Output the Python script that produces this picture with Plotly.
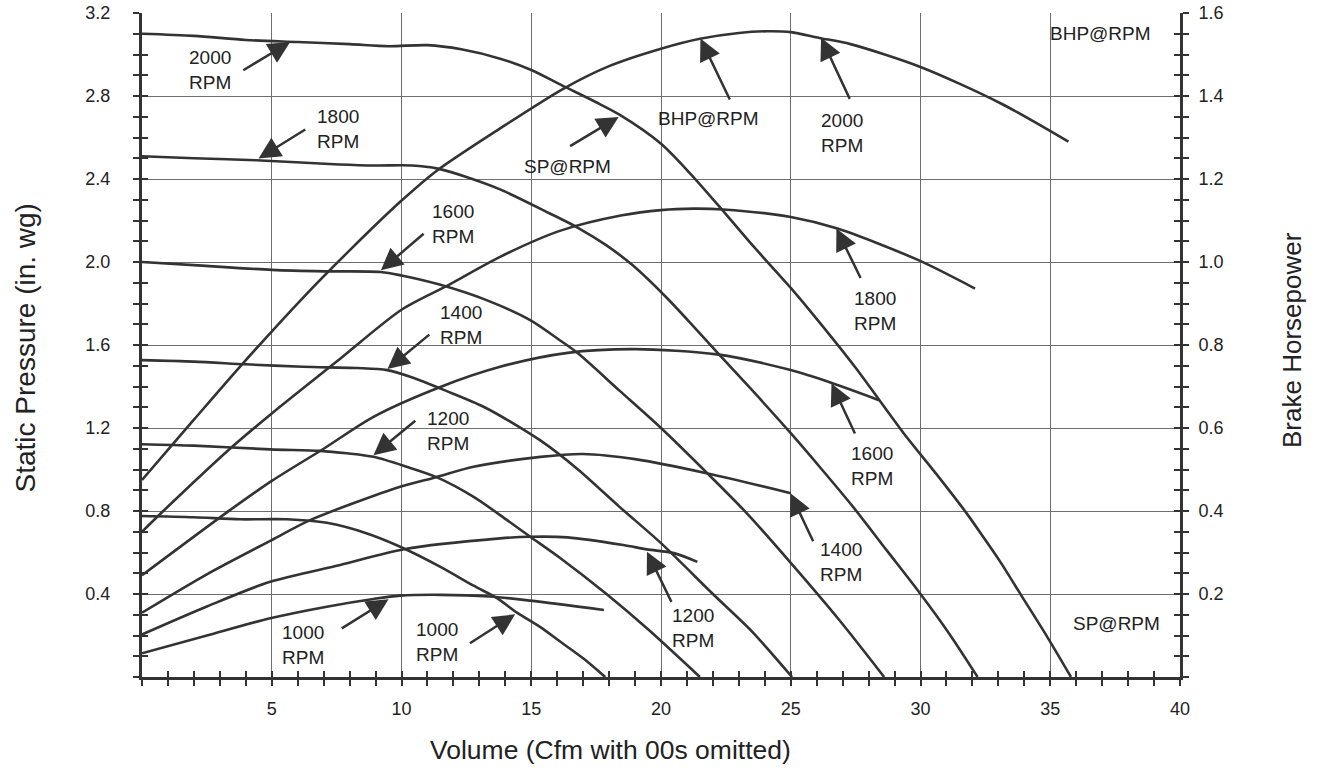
import plotly.graph_objects as go

# ---------------- data ----------------
# Static pressure curves (in. wg) vs volume (cfm, 00s omitted)
sp2000_x = [0, 2, 4, 6, 8, 9.5, 11, 12.3, 13.8, 15, 16.2, 17.5, 18.4, 20, 21.1, 22.3, 23.6, 25, 26.1, 27.5, 29.35, 30.6, 31.8, 32.5, 33.1, 33.9, 34.9, 35.8]
sp2000_y = [3.10, 3.09, 3.07, 3.06, 3.05, 3.04, 3.045, 3.025, 2.98, 2.925, 2.85, 2.77, 2.71, 2.57, 2.43, 2.26, 2.07, 1.875, 1.71, 1.49, 1.175, 0.98, 0.785, 0.66, 0.55, 0.39, 0.19, 0.0]

sp1800_x = [0, 2, 4.4, 7.6, 9, 10.4, 11.4, 12.5, 13.8, 15.7, 16.8, 17.9, 18.9, 20.2, 21.25, 22.2, 23.6, 25, 26.2, 27.4, 28.7, 30, 31.1, 32.2]
sp1800_y = [2.51, 2.50, 2.49, 2.47, 2.465, 2.465, 2.45, 2.41, 2.35, 2.235, 2.165, 2.08, 1.985, 1.83, 1.69, 1.56, 1.37, 1.175, 1.00, 0.82, 0.61, 0.40, 0.21, 0.0]

sp1600_x = [0, 2, 5, 7, 9.2, 10, 11.5, 13.3, 14.96, 16.1, 16.8, 18.4, 20, 21.8, 23.3, 25, 26.9, 28.6]
sp1600_y = [2.0, 1.985, 1.962, 1.955, 1.952, 1.935, 1.89, 1.815, 1.72, 1.623, 1.56, 1.38, 1.20, 0.98, 0.79, 0.55, 0.27, 0.0]

sp1400_x = [0, 2, 4, 6.2, 8.3, 9.45, 10.5, 11.6, 13.2, 15.35, 16.8, 18.4, 20, 22, 23.5, 25.05]
sp1400_y = [1.527, 1.52, 1.507, 1.495, 1.489, 1.479, 1.44, 1.385, 1.30, 1.14, 1.00, 0.82, 0.645, 0.40, 0.22, 0.0]

sp1200_x = [0, 2, 4.94, 6.86, 7.9, 8.92, 10.2, 11.37, 12.78, 14.07, 14.96, 16.1, 17.9, 19.5, 21.5]
sp1200_y = [1.122, 1.115, 1.097, 1.09, 1.078, 1.061, 1.013, 0.962, 0.868, 0.756, 0.676, 0.575, 0.40, 0.23, 0.0]

sp1000_x = [0, 2, 3.78, 5.58, 7.12, 8.67, 9.95, 11.5, 12.78, 13.68, 14.45, 15.35, 16.1, 17.0, 17.85]
sp1000_y = [0.776, 0.77, 0.76, 0.76, 0.743, 0.692, 0.628, 0.531, 0.44, 0.38, 0.31, 0.24, 0.172, 0.09, 0.0]

# Brake horsepower curves (hp, right axis)
bhp2000_x = [0, 2, 3.78, 6.22, 8, 9.95, 11.36, 13.8, 16.25, 18, 20, 21.5, 23, 24.1, 25, 26.1, 27.3, 30, 33.1, 35.7]
bhp2000_y = [0.475, 0.62, 0.748, 0.915, 1.028, 1.145, 1.22, 1.322, 1.418, 1.472, 1.514, 1.538, 1.552, 1.556, 1.554, 1.54, 1.525, 1.47, 1.382, 1.29]

bhp1800_x = [0, 0.82, 3.39, 5, 7.5, 10, 11.75, 13.8, 16.1, 18.5, 20, 21.26, 22.4, 25, 26.8, 29.9, 32.1]
bhp1800_y = [0.35, 0.40, 0.55, 0.635, 0.76, 0.885, 0.9425, 1.0125, 1.075, 1.1125, 1.125, 1.1285, 1.1265, 1.1085, 1.0805, 1.005, 0.936]

bhp1600_x = [0, 3.39, 5, 7, 8.92, 11.5, 13.8, 16.4, 19, 22.16, 25, 26.5, 28.4]
bhp1600_y = [0.245, 0.402, 0.4725, 0.55, 0.627, 0.699, 0.7475, 0.781, 0.79, 0.7775, 0.7395, 0.71, 0.667]

bhp1400_x = [0, 2.5, 5, 6.48, 9.95, 11.3, 12.78, 15.35, 17.0, 19, 21.8, 25.0]
bhp1400_y = [0.155, 0.2475, 0.33, 0.378, 0.4585, 0.481, 0.5065, 0.5305, 0.5375, 0.525, 0.4905, 0.443]

bhp1200_x = [0, 2.5, 4.94, 7.64, 10.1, 13.8, 14.96, 16.4, 18.55, 19.46, 20.5, 21.4]
bhp1200_y = [0.1025, 0.17, 0.2295, 0.27, 0.308, 0.334, 0.338, 0.3365, 0.318, 0.3075, 0.2985, 0.2775]

bhp1000_x = [0, 2.5, 4.94, 7.12, 8.92, 9.95, 11.5, 13.4, 14.96, 17.8]
bhp1000_y = [0.057, 0.1, 0.1415, 0.1695, 0.188, 0.196, 0.198, 0.194, 0.184, 0.1615]

x_tick_vals = [5, 10, 15, 20, 25, 30, 35, 40]
x_tick_text = ["5", "10", "15", "20", "25", "30", "35", "40"]
y_tick_vals = [0.4, 0.8, 1.2, 1.6, 2.0, 2.4, 2.8, 3.2]
y_tick_text = ["0.4", "0.8", "1.2", "1.6", "2.0", "2.4", "2.8", "3.2"]
y2_tick_vals = [0.2, 0.4, 0.6, 0.8, 1.0, 1.2, 1.4, 1.6]
y2_tick_text = ["0.2", "0.4", "0.6", "0.8", "1.0", "1.2", "1.4", "1.6"]

# ---------------- styling ----------------
INK = "#333333"
TXT = "#222222"
FONT = "Liberation Sans, Arial, Helvetica, sans-serif"
LW = 2.6

fig = go.Figure()

sp_series = [(sp2000_x, sp2000_y), (sp1800_x, sp1800_y), (sp1600_x, sp1600_y),
             (sp1400_x, sp1400_y), (sp1200_x, sp1200_y), (sp1000_x, sp1000_y)]
bhp_series = [(bhp2000_x, bhp2000_y), (bhp1800_x, bhp1800_y), (bhp1600_x, bhp1600_y),
              (bhp1400_x, bhp1400_y), (bhp1200_x, bhp1200_y), (bhp1000_x, bhp1000_y)]

for xs, ys in sp_series:
    fig.add_trace(go.Scatter(x=xs, y=ys, mode="lines", xaxis="x", yaxis="y",
                             line=dict(color=INK, width=LW, shape="spline", smoothing=0.8),
                             hoverinfo="skip", showlegend=False))
for xs, ys in bhp_series:
    fig.add_trace(go.Scatter(x=xs, y=ys, mode="lines", xaxis="x", yaxis="y2",
                             line=dict(color=INK, width=LW, shape="spline", smoothing=0.8),
                             hoverinfo="skip", showlegend=False))

minor_x = list(range(0, 41))
minor_y = [round(i * 0.1, 2) for i in range(0, 33)]
minor_y2 = [round(i * 0.05, 3) for i in range(0, 33)]
TL = 6
TW = 2.4

fig.update_layout(
    width=1328, height=768,
    margin=dict(l=142, r=148, t=13, b=91, autoexpand=False),
    paper_bgcolor="white", plot_bgcolor="white",
    showlegend=False,
    font=dict(family=FONT, color=TXT, size=18),
    xaxis=dict(range=[0, 40], tickmode="array", tickvals=x_tick_vals, ticktext=x_tick_text,
               ticks="outside", ticklen=TL, tickwidth=TW, tickcolor=INK,
               showgrid=True, gridcolor="#6e6e6e", gridwidth=1,
               showline=True, linecolor=INK, linewidth=3, zeroline=False,
               tickfont=dict(size=18, color=TXT), ticklabelstandoff=7, automargin=False,
               minor=dict(tickmode="array", tickvals=minor_x, ticks="outside",
                          ticklen=TL, tickwidth=TW, tickcolor=INK, showgrid=False),
               fixedrange=True),
    xaxis2=dict(range=[0, 40], overlaying="x", anchor="y", side="bottom",
                tickmode="array", tickvals=minor_x, ticks="inside", ticklen=TL,
                tickwidth=TW, tickcolor=INK, showticklabels=False, showgrid=False,
                showline=False, zeroline=False, fixedrange=True, automargin=False),
    yaxis=dict(range=[0, 3.2], tickmode="array", tickvals=y_tick_vals, ticktext=y_tick_text,
               ticks="outside", ticklen=TL, tickwidth=TW, tickcolor=INK,
               showgrid=True, gridcolor="#6e6e6e", gridwidth=1,
               showline=True, linecolor=INK, linewidth=3, zeroline=False,
               tickfont=dict(size=18, color=TXT), ticklabelstandoff=19, automargin=False,
               minor=dict(tickmode="array", tickvals=minor_y, ticks="outside",
                          ticklen=TL, tickwidth=TW, tickcolor=INK, showgrid=False),
               fixedrange=True),
    yaxis3=dict(range=[0, 3.2], overlaying="y", anchor="x", side="left",
                tickmode="array", tickvals=minor_y, ticks="inside", ticklen=TL,
                tickwidth=TW, tickcolor=INK, showticklabels=False, showgrid=False,
                showline=False, zeroline=False, fixedrange=True, automargin=False),
    yaxis2=dict(range=[0, 1.6], overlaying="y", anchor="x", side="right",
                tickmode="array", tickvals=y2_tick_vals, ticktext=y2_tick_text,
                ticks="outside", ticklen=TL, tickwidth=TW, tickcolor=INK,
                showgrid=False, showline=True, linecolor=INK, linewidth=3, zeroline=False,
                tickfont=dict(size=18, color=TXT), ticklabelstandoff=6, automargin=False,
                minor=dict(tickmode="array", tickvals=minor_y2, ticks="outside",
                           ticklen=TL, tickwidth=TW, tickcolor=INK, showgrid=False),
                fixedrange=True),
    yaxis4=dict(range=[0, 1.6], overlaying="y", anchor="x", side="right",
                tickmode="array", tickvals=minor_y2, ticks="inside", ticklen=TL,
                tickwidth=TW, tickcolor=INK, showticklabels=False, showgrid=False,
                showline=False, zeroline=False, fixedrange=True, automargin=False),
)

# invisible anchors so the overlay tick axes are always drawn
fig.add_trace(go.Scatter(x=[None], y=[None], xaxis="x2", yaxis="y3", mode="lines",
                         hoverinfo="skip", showlegend=False))
fig.add_trace(go.Scatter(x=[None], y=[None], xaxis="x", yaxis="y4", mode="lines",
                         hoverinfo="skip", showlegend=False))

# ---------------- labels and arrows ----------------
labels = [
    ("2000<br>RPM", 2.62, 2.924),
    ("1800<br>RPM", 7.56, 2.64),
    ("SP@RPM", 16.38, 2.458),
    ("BHP@RPM", 21.84, 2.691),
    ("2000<br>RPM", 26.96, 2.623),
    ("1800<br>RPM", 28.23, 1.765),
    ("1600<br>RPM", 11.99, 2.185),
    ("1400<br>RPM", 12.30, 1.698),
    ("1200<br>RPM", 11.79, 1.184),
    ("1600<br>RPM", 28.13, 1.015),
    ("1400<br>RPM", 26.92, 0.553),
    ("1200<br>RPM", 21.23, 0.236),
    ("1000<br>RPM", 6.21, 0.154),
    ("1000<br>RPM", 11.38, 0.168),
    ("BHP@RPM", 36.93, 3.099),
    ("SP@RPM", 37.55, 0.256),
]
for txt, lx, ly in labels:
    fig.add_annotation(x=lx, y=ly, xref="x", yref="y", text=txt, showarrow=False,
                       font=dict(size=19, color=TXT, family=FONT), align="center",
                       xanchor="center", yanchor="middle")

# (head_x, head_y, tail_x, tail_y) in left-axis data units
arrows = [
    (5.71, 3.06, 3.845, 2.92),
    (4.49, 2.499, 6.35, 2.643),
    (18.37, 2.699, 16.44, 2.554),
    (21.52, 3.077, 22.68, 2.776),
    (26.17, 3.081, 27.3, 2.779),
    (26.76, 2.161, 27.72, 1.916),
    (9.205, 1.96, 10.91, 2.142),
    (9.46, 1.484, 11.13, 1.656),
    (8.92, 1.069, 10.59, 1.241),
    (26.57, 1.415, 27.5, 1.166),
    (24.99, 0.885, 25.89, 0.647),
    (19.46, 0.604, 20.43, 0.355),
    (9.50, 0.375, 7.64, 0.23),
    (14.38, 0.302, 12.58, 0.158),
]
for hx, hy, tx, ty in arrows:
    fig.add_annotation(x=hx, y=hy, xref="x", yref="y", ax=tx, ay=ty, axref="x", ayref="y",
                       text="", showarrow=True, arrowhead=2, arrowsize=1.75,
                       arrowwidth=2.5, arrowcolor=INK, standoff=0)

# axis titles
fig.add_annotation(x=(24.5 - 142) / 1038, y=(677 - 348) / 664, xref="paper", yref="paper",
                   text="Static Pressure (in. wg)", textangle=-90, showarrow=False,
                   font=dict(size=28, color=TXT, family=FONT), xanchor="center", yanchor="middle")
fig.add_annotation(x=(1292 - 142) / 1038, y=(677 - 340) / 664, xref="paper", yref="paper",
                   text="Brake Horsepower", textangle=-90, showarrow=False,
                   font=dict(size=26, color=TXT, family=FONT), xanchor="center", yanchor="middle")
fig.add_annotation(x=(610.5 - 142) / 1038, y=(677 - 750) / 664, xref="paper", yref="paper",
                   text="Volume (Cfm with 00s omitted)", showarrow=False,
                   font=dict(size=26.5, color=TXT, family=FONT), xanchor="center", yanchor="middle")

fig.write_html("out.html", config={"displayModeBar": False})
